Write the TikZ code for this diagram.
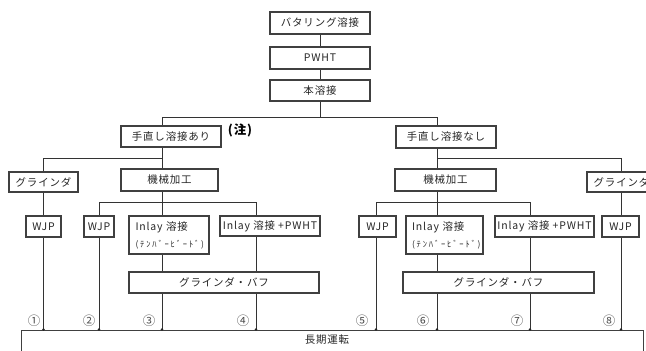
\documentclass[tikz,border=0pt]{standalone}
\usepackage{fontspec}
\setmainfont{Noto Sans CJK JP}[LetterSpace=8]
\newfontfamily\kanafont{Noto Sans CJK JP}[LetterSpace=22]
\newfontfamily\numfont{Noto Sans CJK JP}
\begin{document}
\begin{tikzpicture}[x=1bp,y=-1bp,
  box/.style={draw=black!75, line width=1.2bp, inner sep=0pt, fill=white,
    font=\fontsize{10.5}{12}\selectfont, text=black!85},
  conn/.style={draw=black!80, line width=1bp},
  num/.style={inner sep=0pt, font=\numfont\fontsize{12.5}{13}\selectfont, text=black!70},
  enddot/.style={circle, fill=black!85, inner sep=0pt, minimum size=2.8bp}]
\useasboundingbox (0,0) rectangle (646,350);
\clip (0,0) rectangle (646,350);
\fill[white] (0,0) rectangle (646,350);

% top chain
\node[box, minimum width=100bp, minimum height=22bp] (b1) at (320,23) {バタリング溶接};
\node[box, minimum width=100bp, minimum height=22bp] (b2) at (320,58) {PWHT};
\node[box, minimum width=100bp, minimum height=21bp] (b3) at (320,90.5) {本溶接};

\node[box, minimum width=100bp, minimum height=21bp] (L1) at (171,136.5) {手直し溶接あり};
\node[inner sep=0pt, font=\fontsize{12.5}{13}\selectfont\bfseries] (note) at (240,130) {(注)};
\node[box, minimum width=100bp, minimum height=22bp] (R1) at (446,137) {手直し溶接なし};

% second level
\node[box, minimum width=69bp, minimum height=20bp] (Lg) at (43.5,182) {グラインダ};
\node[box, minimum width=97bp, minimum height=22bp] (Lm) at (169.5,180) {機械加工};
\node[box, minimum width=101bp, minimum height=22bp] (Rm) at (445.5,180) {機械加工};
\node[box, minimum width=69bp, minimum height=20bp] (Rg) at (621.5,182) {グラインダ};

% third level left
\node[box, minimum width=35bp, minimum height=21bp] (W1) at (43.5,226.5) {WJP};
\node[box, minimum width=30bp, minimum height=21bp] (W2) at (99,226.5) {WJP};
\node[box, minimum width=80bp, minimum height=38bp, text width=67bp, inner xsep=6.5bp, align=left] (I1) at (169,235)
  {Inlay 溶接\\[5bp]{\kanafont\fontsize{8.5}{9}\selectfont(ﾃﾝﾊﾞｰﾋﾞｰﾄﾞ)}};
\node[box, minimum width=100bp, minimum height=20bp] (P1) at (270,226) {Inlay 溶接 +PWHT};
\node[box, minimum width=190bp, minimum height=21bp] (G1) at (224,282.5) {グラインダ・バフ};

% third level right
\node[box, minimum width=37bp, minimum height=21bp] (W5) at (377.5,226.5) {WJP};
\node[box, minimum width=77bp, minimum height=38bp, text width=65bp, inner xsep=6bp, align=left] (I2) at (444.5,235)
  {Inlay 溶接\\[5bp]{\kanafont\fontsize{8.5}{9}\selectfont(ﾃﾝﾊﾞｰﾋﾞｰﾄﾞ)}};
\node[box, minimum width=99bp, minimum height=21bp] (P2) at (544.5,226.5) {Inlay 溶接 +PWHT};
\node[box, minimum width=37bp, minimum height=21bp] (W8) at (620.5,226.5) {WJP};
\node[box, minimum width=191bp, minimum height=21bp] (G2) at (498.5,282.5) {グラインダ・バフ};

% bottom box
\node[box, minimum width=622bp, minimum height=40bp, anchor=north west] (long) at (21,329.5) {};
\node[inner sep=0pt, font=\fontsize{10.5}{12}\selectfont, text=black!85] (longtxt) at (327,340) {長期運転};

% helper coordinates
\coordinate (xa) at (162,0);
\coordinate (xb) at (437,0);
\coordinate (xc) at (43.5,0);
\coordinate (xd) at (621,0);
\coordinate (xe) at (99,0);
\coordinate (xf) at (256,0);
\coordinate (xg) at (376,0);
\coordinate (xh) at (530,0);
\coordinate (ya) at (0,117);
\coordinate (yb) at (0,158);
\coordinate (yc) at (0,202);

% connectors top
\draw[conn] (b1) -- (b2);
\draw[conn] (b2) -- (b3);
\draw[conn] (b3.south) -- (b3.south |- ya);
\draw[conn] (xa |- ya) -- (xb |- ya);
\draw[conn] (xa |- ya) -- (xa |- L1.north);
\draw[conn] (xb |- ya) -- (xb |- R1.north);

% from 手直し
\draw[conn] (xa |- L1.south) -- (xa |- Lm.north);
\draw[conn] (xc |- yb) -- (xa |- yb);
\draw[conn] (xc |- yb) -- (Lg.north);
\draw[conn] (xb |- R1.south) -- (xb |- Rm.north);
\draw[conn] (xb |- yb) -- (xd |- yb);
\draw[conn] (xd |- yb) -- (xd |- Rg.north);

% left machining branch
\draw[conn] (xa |- Lm.south) -- (xa |- yc);
\draw[conn] (xe |- yc) -- (xf |- yc);
\draw[conn] (xe |- yc) -- (xe |- W2.north);
\draw[conn] (xa |- yc) -- (xa |- I1.north);
\draw[conn] (xf |- yc) -- (xf |- P1.north);
\draw[conn] (Lg.south) -- (W1.north);

% right machining branch
\draw[conn] (xb |- Rm.south) -- (xb |- yc);
\draw[conn] (xg |- yc) -- (xh |- yc);
\draw[conn] (xg |- yc) -- (xg |- W5.north);
\draw[conn] (xb |- yc) -- (xb |- I2.north);
\draw[conn] (xh |- yc) -- (xh |- P2.north);
\draw[conn] (xd |- Rg.south) -- (xd |- W8.north);

% to grinding/buff
\draw[conn] (xa |- I1.south) -- (xa |- G1.north);
\draw[conn] (xf |- P1.south) -- (xf |- G1.north);
\draw[conn] (xb |- I2.south) -- (xb |- G2.north);
\draw[conn] (xh |- P2.south) -- (xh |- G2.north);

% down to long-term operation
\draw[conn] (xc |- W1.south) -- (xc |- long.north) node[enddot]{};
\draw[conn] (xe |- W2.south) -- (xe |- long.north) node[enddot]{};
\draw[conn] (xa |- G1.south) -- (xa |- long.north) node[enddot]{};
\draw[conn] (xf |- G1.south) -- (xf |- long.north) node[enddot]{};
\draw[conn] (xg |- W5.south) -- (xg |- long.north) node[enddot]{};
\draw[conn] (xb |- G2.south) -- (xb |- long.north) node[enddot]{};
\draw[conn] (xh |- G2.south) -- (xh |- long.north) node[enddot]{};
\draw[conn] (xd |- W8.south) -- (xd |- long.north) node[enddot]{};

% circled numbers
\node[num] (n1) at (34,321) {①};
\node[num] (n2) at (89,321) {②};
\node[num] (n3) at (149,321) {③};
\node[num] (n4) at (243,321) {④};
\node[num] (n5) at (362,321) {⑤};
\node[num] (n6) at (423,321) {⑥};
\node[num] (n7) at (517,321) {⑦};
\node[num] (n8) at (609,321) {⑧};
\end{tikzpicture}
\end{document}
